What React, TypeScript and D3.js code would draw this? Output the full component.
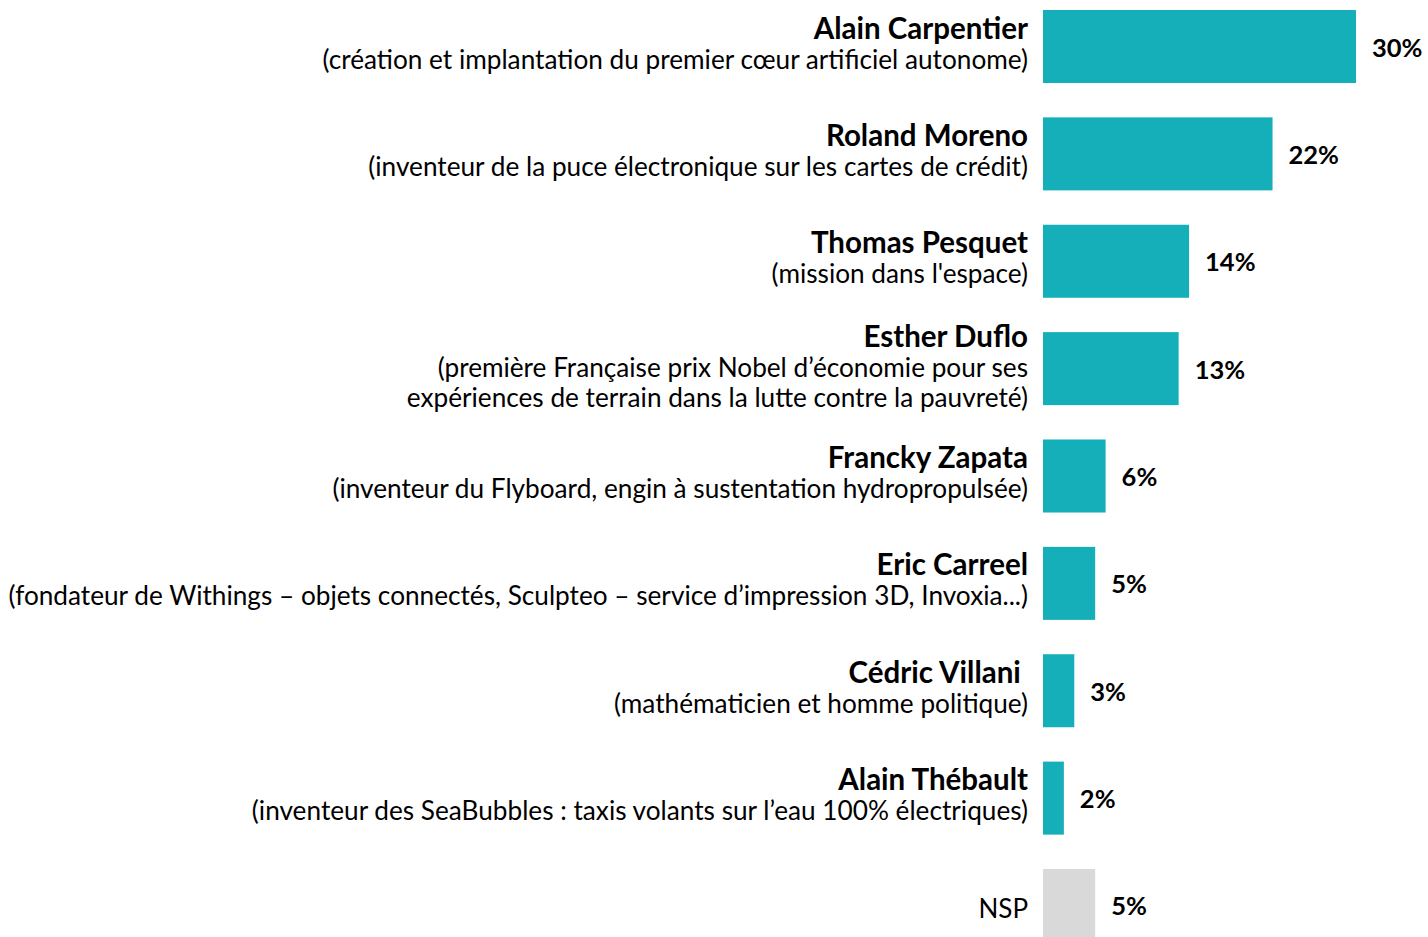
import * as d3 from "d3"
import { useEffect, useRef } from "react"

const names = [
  "Alain Carpentier",
  "Roland Moreno",
  "Thomas Pesquet",
  "Esther Duflo",
  "Francky Zapata",
  "Eric Carreel",
  "Cédric Villani ",
  "Alain Thébault",
  "NSP",
]

const descriptions = [
  ["(création et implantation du premier cœur artificiel autonome)"],
  ["(inventeur de la puce électronique sur les cartes de crédit)"],
  ["(mission dans l'espace)"],
  [
    "(première Française prix Nobel d’économie pour ses",
    "expériences de terrain dans la lutte contre la pauvreté)",
  ],
  ["(inventeur du Flyboard, engin à sustentation hydropropulsée)"],
  ["(fondateur de Withings – objets connectés, Sculpteo – service d’impression 3D, Invoxia...)"],
  ["(mathématicien et homme politique)"],
  ["(inventeur des SeaBubbles : taxis volants sur l’eau 100% électriques)"],
  [],
]

const values = [30, 22, 14, 13, 6, 5, 3, 2, 5]

const TEAL = "#14AFB8"
const GREY = "#D9D9D9"
const FONT = "Lato, 'Open Sans', sans-serif"

const App = () => {
  const ref = useRef()

  useEffect(() => {
    document.body.style.margin = "0"
    const width = 1428
    const height = 937

    const svg = d3.select(ref.current)
    svg.selectAll("*").remove()
    svg.attr("width", width).attr("height", height)

    const x = d3.scaleLinear().domain([0, 30]).range([1043, 1356])
    const y = d3
      .scaleBand()
      .domain(names)
      .range([10, 942])
      .paddingInner(0.32)
      .paddingOuter(0)

    const rows = names.map((name, i) => ({
      name,
      lines: descriptions[i],
      value: values[i],
      nsp: name === "NSP",
    }))

    const g = svg
      .selectAll("g.row")
      .data(rows)
      .enter()
      .append("g")
      .attr("class", "row")

    g.append("rect")
      .attr("x", x(0))
      .attr("y", (d) => y(d.name))
      .attr("width", (d) => x(d.value) - x(0))
      .attr("height", y.bandwidth())
      .attr("fill", (d) => (d.nsp ? GREY : TEAL))

    g.append("text")
      .attr("x", (d) => x(d.value) + 16)
      .attr("y", (d) => y(d.name) + y.bandwidth() / 2 + 10)
      .attr("font-family", FONT)
      .attr("font-size", 25.5)
      .attr("font-weight", "bold")
      .attr("fill", "#000")
      .text((d) => d.value + "%")

    // labels to the left of the bars
    g.each(function (d) {
      const cy = y(d.name) + y.bandwidth() / 2
      const n = d.lines.length + 1
      const t = d3.select(this)
      if (d.nsp) {
        t.append("text")
          .attr("x", 1028)
          .attr("y", cy + 13)
          .attr("text-anchor", "end")
          .attr("font-family", FONT)
          .attr("font-size", 26)
          .text(d.name)
        return
      }
      const lineH = 30
      const offset = n === 3 ? 8 : 7
      t.append("text")
        .attr("x", 1028)
        .attr("y", cy - ((n - 1) / 2) * lineH + offset)
        .attr("text-anchor", "end")
        .attr("font-family", FONT)
        .attr("font-size", 29.5)
        .attr("font-weight", "bold")
        .style("white-space", "pre")
        .text(d.name)
      d.lines.forEach((line, j) => {
        t.append("text")
          .attr("x", 1028)
          .attr("y", cy + (j + 1 - (n - 1) / 2) * lineH + offset)
          .attr("text-anchor", "end")
          .attr("font-family", FONT)
          .attr("font-size", 26.2)
          .text(line)
      })
    })
  }, [])

  return <svg ref={ref}></svg>
}

export default App
